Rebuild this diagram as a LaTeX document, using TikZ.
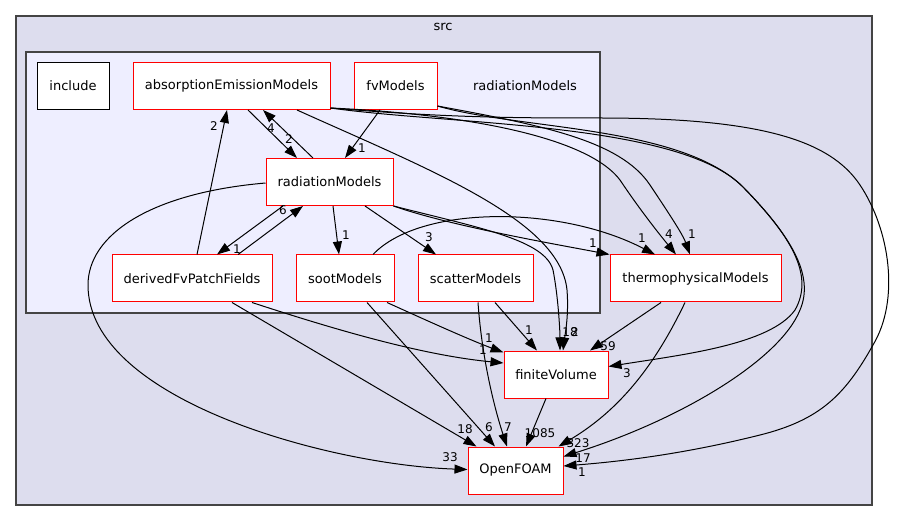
\documentclass[tikz,border=0pt]{standalone}
\usepackage{fontspec}
\setmainfont{DejaVu Sans}
\usetikzlibrary{arrows.meta}
\definecolor{outerfill}{HTML}{DDDDEE}
\definecolor{innerfill}{HTML}{EEEEFF}
\definecolor{bordergray}{HTML}{444444}
\begin{document}
\begin{tikzpicture}[x=1pt,y=-1pt,
  box/.style={draw=red, fill=white, line width=1pt, minimum height=47pt, inner sep=0pt, font=\fontsize{13}{15}\selectfont},
  plainbox/.style={box, draw=black},
  edge/.style={draw=black, line width=1pt, -{Triangle[length=13pt,width=9pt]}},
  elab/.style={font=\fontsize{12}{14}\selectfont, inner sep=0pt},
  clab/.style={font=\fontsize{13}{15}\selectfont, inner sep=0pt},
  cluster/.style={draw=bordergray, line width=1.2pt}]
\useasboundingbox (0,0) rectangle (897,521);
% clusters
\draw[cluster, fill=outerfill] (16,16) rectangle (872,505);
\node[clab] (srclab) at (443,27) {src};
\draw[cluster, fill=innerfill] (26,52) rectangle (600,313);
\node[clab] (radlab) at (525,86) {radiationModels};
% nodes
\node[plainbox, minimum width=72pt] (inc) at (73,86) {include};
\node[box, minimum width=197pt] (abs) at (231.5,86) {absorptionEmissionModels};
\node[box, minimum width=83pt] (fvm) at (395.5,86) {fvModels};
\node[box, minimum width=127pt] (rad) at (329.5,182) {radiationModels};
\node[box, minimum width=160pt] (dfp) at (192,278.5) {derivedFvPatchFields};
\node[box, minimum width=98pt] (soot) at (345,278.5) {sootModels};
\node[box, minimum width=115pt] (scat) at (475.5,278.5) {scatterModels};
\node[box, minimum width=171pt] (thermo) at (695.5,278.5) {thermophysicalModels};
\node[box, minimum width=104pt] (fv) at (556,374.5) {finiteVolume};
\node[box, minimum width=95pt] (of) at (515.5,470.5) {OpenFOAM};
% labels
\node[elab] (e1) at (271,128) {4};
\node[elab] (e2) at (289,139) {2};
\node[elab] (e3) at (362,148) {1};
\node[elab] (e4) at (214,126) {2};
\node[elab] (e5) at (237,249) {1};
\node[elab] (e6) at (283,210) {6};
\node[elab] (e7) at (346,235) {1};
\node[elab] (e8) at (429,237) {3};
\node[elab] (e9) at (593,243) {1};
\node[elab] (e10) at (642,238) {1};
\node[elab] (e11) at (669,234) {4};
\node[elab] (e12) at (692,234) {1};
\node[elab] (e13) at (570,332) {18};
\node[elab] (e14) at (575,332) {2};
\node[elab] (e15) at (489,338) {1};
\node[elab] (e16) at (483,350) {1};
\node[elab] (e17) at (529,330) {1};
\node[elab] (e18) at (608,346) {59};
\node[elab] (e19) at (627,373) {3};
\node[elab] (e20) at (540,433) {1085};
\node[elab] (e21) at (578,443) {323};
\node[elab] (e22) at (583,458) {17};
\node[elab] (e23) at (582,472) {1};
\node[elab] (e24) at (465,429) {18};
\node[elab] (e25) at (489,427) {6};
\node[elab] (e26) at (508,427) {7};
\node[elab] (e27) at (450,457) {33};
% edges
\draw[edge] ([xshift=16.5pt]abs.south) -- ([xshift=-32.5pt]rad.north);
\draw[edge] ([xshift=-16.5pt]rad.north) -- ([xshift=31.5pt]abs.south);
\draw[edge] ([xshift=-15.5pt]fvm.south) -- ([xshift=15.5pt]rad.north);
\draw[edge] ([xshift=5pt]dfp.north) -- ([xshift=-4.5pt]abs.south);
\draw[edge] ([xshift=-46.5pt]rad.south) -- ([xshift=25pt]dfp.north);
\draw[edge] ([xshift=46pt]dfp.north) -- ([xshift=-26.5pt]rad.south);
\draw[edge] ([xshift=3.5pt]rad.south) -- ([xshift=-6pt]soot.north);
\draw[edge] ([xshift=35.5pt]rad.south) -- ([xshift=-39.5pt]scat.north);
\draw[edge] (rad.south east) .. controls (450,226) and (560,245) .. (thermo.north west);
\draw[edge] (rad.south east) .. controls (480,228) and (545,240) .. (553,270) .. controls (558,295) and (560,330) .. ([xshift=4pt]fv.north);
\draw[edge] ([xshift=28pt]soot.north) .. controls (420,205) and (560,205) .. ([xshift=-40.5pt]thermo.north);
\draw[edge] ([yshift=2pt]abs.south east) .. controls (480,115) and (590,140) .. (620,180) .. controls (640,210) and (660,235) .. ([xshift=-19.5pt]thermo.north);
\draw[edge] ([yshift=4pt]fvm.south east) .. controls (540,125) and (620,140) .. (650,185) .. controls (670,215) and (683,235) .. ([xshift=-5.5pt]thermo.north);
\draw[edge] ([yshift=2pt]abs.south east) .. controls (450,118) and (520,118) .. (600,118) .. controls (760,118) and (830,140) .. (860,185) .. controls (890,230) and (900,300) .. (873,345) .. controls (845,395) and (820,420) .. (760,435) .. controls (700,450) and (640,460) .. ([yshift=4.5pt]of.east);
\draw[edge] ([yshift=4pt]fvm.south east) .. controls (520,130) and (680,125) .. (743,187) .. controls (790,235) and (815,275) .. (795,310) .. controls (770,345) and (680,355) .. ([yshift=8pt]fv.east);
\draw[edge] ([yshift=2pt]abs.south east) .. controls (450,125) and (680,122) .. (743,187) .. controls (790,235) and (815,275) .. (800,310) .. controls (780,360) and (680,420) .. ([yshift=14pt]of.east);
\draw[edge] ([xshift=65.5pt]abs.south) .. controls (430,170) and (560,220) .. (567,290) .. controls (569,315) and (565,335) .. ([xshift=7pt]fv.north);
\draw[edge] ([xshift=42pt]soot.south) .. controls (430,322) and (470,340) .. ([yshift=-2pt]fv.north west);
\draw[edge] ([xshift=60pt]dfp.south) .. controls (330,328) and (420,355) .. ([yshift=11.5pt]fv.west);
\draw[edge] ([xshift=19.5pt]scat.south) -- ([xshift=-19pt]fv.north);
\draw[edge] ([xshift=-34.5pt]thermo.south) -- ([xshift=34pt]fv.north);
\draw[edge] ([xshift=-10pt]fv.south) -- ([xshift=10.5pt]of.north);
\draw[edge] ([xshift=-10.5pt]thermo.south) .. controls (655,365) and (620,410) .. ([xshift=-5pt]of.north east);
\draw[edge] ([xshift=40pt]dfp.south) -- ([xshift=9pt]of.north west);
\draw[edge] ([xshift=22pt]soot.south) -- ([xshift=-20.5pt]of.north);
\draw[edge] ([xshift=2.5pt]scat.south) .. controls (482,360) and (495,410) .. ([xshift=-8.5pt]of.north);
\draw[edge] ([yshift=-1pt]rad.west) .. controls (150,193) and (88,235) .. (88,285) .. controls (88,400) and (330,465) .. ([yshift=1pt]of.west);
\end{tikzpicture}
\end{document}
